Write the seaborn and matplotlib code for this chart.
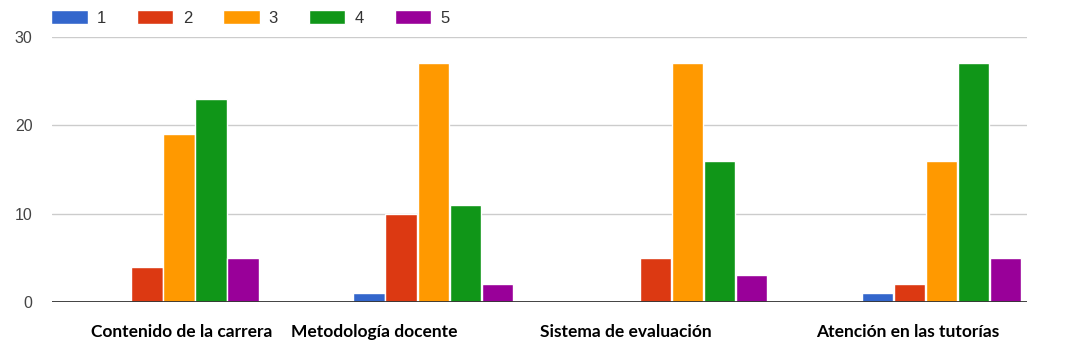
import matplotlib
matplotlib.use("Agg")
import matplotlib.pyplot as plt
import seaborn as sns
import pandas as pd
from matplotlib.transforms import blended_transform_factory

categories = ["Contenido de la carrera", "Metodología docente",
              "Sistema de evaluación", "Atención en las tutorías"]
ratings = ["1", "2", "3", "4", "5"]
values_1 = [0, 1, 0, 1]
values_2 = [4, 10, 5, 2]
values_3 = [19, 27, 27, 16]
values_4 = [23, 11, 16, 27]
values_5 = [5, 2, 3, 5]
colors = ["#3366cc", "#dc3912", "#ff9900", "#109618", "#990099"]
y_ticks = [0, 10, 20, 30]
label_x = [0.01, 0.77, 1.76, 2.87]

series = [values_1, values_2, values_3, values_4, values_5]
rows = []
for r, vals in zip(ratings, series):
    for c, v in zip(categories, vals):
        rows.append({"cat": c, "rating": r, "value": v})
df = pd.DataFrame(rows)

sns.set_style("white")
plt.rcParams["font.family"] = ["Liberation Sans", "DejaVu Sans"]

fig = plt.figure(figsize=(10.83, 3.62), dpi=100)
ax = fig.add_axes([0.048, 0.166, 0.900, 0.732])

sns.barplot(data=df, x="cat", y="value", hue="rating", order=categories,
            hue_order=ratings, palette=colors, width=0.63, gap=0.03,
            saturation=1, ax=ax, legend=True)

ax.set_xlim(-0.5, 3.337)
ax.set_ylim(0, 30)
ax.set_yticks(y_ticks)
ax.set_yticklabels([str(t) for t in y_ticks], color="#444444", fontsize=11.5)
ax.tick_params(axis="y", length=0, pad=14)
ax.tick_params(axis="x", length=0)
ax.set_xticklabels([])
ax.set_xlabel("")
ax.set_ylabel("")
for t in y_ticks[1:]:
    ax.axhline(t, color="#cccccc", lw=1, zorder=0)
ax.axhline(0, color="#333333", lw=1.3, zorder=3)
for s in ax.spines.values():
    s.set_visible(False)

tr = blended_transform_factory(ax.transData, fig.transFigure)
for x, lab in zip(label_x, categories):
    ax.text(x, 0.068, lab, transform=tr, ha="center", va="baseline",
            fontsize=12.5, fontweight="bold", family=["Lato", "DejaVu Sans"],
            color="#000000")

leg = ax.legend(loc="upper left", bbox_to_anchor=(0.047, 0.972),
                bbox_transform=fig.transFigure, ncol=5, frameon=False,
                fontsize=12, handlelength=2.2, handleheight=0.9,
                handletextpad=0.55, columnspacing=1.85, borderaxespad=0,
                borderpad=0)
for t in leg.get_texts():
    t.set_color("#333333")

fig.savefig("out.png", dpi=100)
